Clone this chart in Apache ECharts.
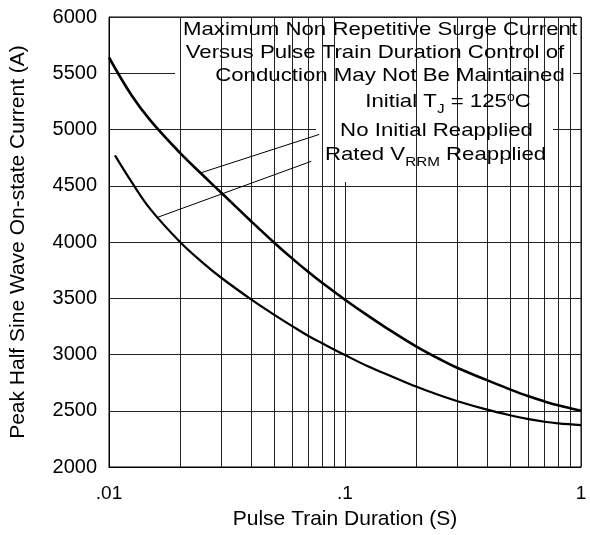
<!DOCTYPE html>
<html>
<head>
<meta charset="utf-8">
<script src="https://cdn.jsdelivr.net/npm/echarts@6/dist/echarts.min.js"></script>
<style>
html, body { margin: 0; padding: 0; background: #fff; }
#chart { width: 590px; height: 535px; }
</style>
</head>
<body>
<div id="chart"></div>
<script>
// curve readings: pulse train duration (s) -> peak current (A)
const noReapT = [0.01, 0.0125, 0.015, 0.02, 0.025, 0.03, 0.04, 0.05, 0.06, 0.07, 0.08, 0.1, 0.125, 0.15, 0.2, 0.25, 0.3, 0.4, 0.5, 0.6, 0.7, 0.8, 1.0];
const noReapI = [5640, 5300, 5079, 4792, 4593, 4435, 4185, 3996, 3850, 3733, 3637, 3487, 3345, 3235, 3072, 2962, 2880, 2772, 2690, 2628, 2583, 2548, 2500];

const vrrmT = [0.0106, 0.0125, 0.015, 0.02, 0.025, 0.03, 0.04, 0.05, 0.06, 0.07, 0.08, 0.1, 0.125, 0.15, 0.2, 0.25, 0.3, 0.4, 0.5, 0.6, 0.7, 0.8, 1.0];
const vrrmI = [4770, 4530, 4290, 4000, 3815, 3680, 3490, 3355, 3250, 3165, 3100, 2995, 2895, 2825, 2715, 2640, 2585, 2510, 2460, 2425, 2402, 2388, 2372];

// leader lines from the labels to the curves
const leadUpT = [0.0245, 0.0778];
const leadUpI = [4615, 4956];
const leadLoT = [0.0161, 0.0719];
const leadLoI = [4220, 4717];

const xTicks = [0.01, 0.1, 1];
const xTickLabels = ['.01', '.1', '1'];
const minorX = [0.02, 0.03, 0.04, 0.05, 0.06, 0.07, 0.08, 0.09, 0.2, 0.3, 0.4, 0.5, 0.6, 0.7, 0.8, 0.9];
const yTicks = [2000, 2500, 3000, 3500, 4000, 4500, 5000, 5500, 6000];
const yTickLabels = ['2000', '2500', '3000', '3500', '4000', '4500', '5000', '5500', '6000'];

const FONT = 'Liberation Sans, Arial, sans-serif';
const pair = (xs, ys) => xs.map((x, i) => [x, ys[i]]);

const chart = echarts.init(document.getElementById('chart'));

function note(cx, cy, text, rich) {
  return {
    type: 'text', x: cx, y: cy, scaleX: 1.17, z: 10, silent: true,
    style: {
      text: text, x: 0, y: 0, fill: '#000',
      fontSize: 19, fontFamily: FONT,
      textAlign: 'center', textVerticalAlign: 'middle',
      rich: rich
    }
  };
}
const rich = {
  n: { fontSize: 19, fontFamily: FONT, color: '#000' },
  sub: { fontSize: 13, fontFamily: FONT, color: '#000', padding: [15, 0, 0, 0] },
  sup: { fontSize: 12, fontFamily: FONT, color: '#000', padding: [0, 0, 9, 0] }
};

chart.setOption({
  animation: false,
  grid: { left: 105, right: 9, top: 17, bottom: 66, show: true, borderColor: '#000', borderWidth: 1 },
  xAxis: {
    type: 'log', logBase: 10, min: 0.01, max: 1,
    name: 'Pulse Train Duration (S)', nameLocation: 'middle', nameGap: 42,
    nameTextStyle: { fontSize: 21, fontFamily: FONT, color: '#000' },
    axisLine: { lineStyle: { color: '#000' } },
    axisTick: { show: false },
    axisLabel: {
      margin: 17, fontSize: 19, fontFamily: FONT, color: '#000',
      formatter: v => {
        const i = xTicks.findIndex(t => Math.abs(t - v) < t * 1e-6);
        return i < 0 ? '' : xTickLabels[i];
      }
    },
    splitLine: { show: true, lineStyle: { color: '#222', width: 1 } }
  },
  yAxis: {
    type: 'value', min: 2000, max: 6000, interval: 500,
    name: 'Peak Half Sine Wave On-state Current (A)', nameLocation: 'middle', nameGap: 80, nameRotate: 90,
    nameTextStyle: { fontSize: 21, fontFamily: FONT, color: '#000' },
    axisLine: { show: true, lineStyle: { color: '#000' } },
    axisTick: { show: false },
    axisLabel: {
      margin: 12, fontSize: 20, fontFamily: FONT, color: '#000',
      formatter: v => {
        const i = yTicks.indexOf(v);
        return i < 0 ? '' : yTickLabels[i];
      }
    },
    splitLine: { show: true, lineStyle: { color: '#222', width: 1 } }
  },
  graphic: [
    // the note block sits on white and hides the grid behind it
    { type: 'rect', z: 3, silent: true, shape: { x: 175, y: 18, width: 398, height: 80 }, style: { fill: '#fff' } },
    { type: 'rect', z: 3, silent: true, shape: { x: 316, y: 98, width: 237, height: 84 }, style: { fill: '#fff' } },
    note(380, 29.5, 'Maximum Non Repetitive Surge Current'),
    note(375, 52.5, 'Versus Pulse Train Duration Control of'),
    note(390, 75.5, 'Conduction May Not Be Maintained'),
    note(448, 102, '{n|Initial T}{sub|J}{n| = 125}{sup|o}{n|C}', rich),
    note(436.5, 131, 'No Initial Reapplied'),
    note(435.5, 155, '{n|Rated V}{sub|RRM}{n| Reapplied}', rich)
  ],
  series: [
    {
      type: 'line', data: [], z: 1, silent: true,
      markLine: {
        silent: true, symbol: 'none', label: { show: false },
        lineStyle: { color: '#222', width: 1, type: 'solid' },
        data: minorX.map(x => ({ xAxis: x }))
      }
    },
    {
      name: 'No Initial Reapplied', type: 'line', z: 5, silent: true,
      data: pair(noReapT, noReapI), smooth: 0.4, showSymbol: false,
      lineStyle: { color: '#000', width: 2.6 }
    },
    {
      name: 'Rated VRRM Reapplied', type: 'line', z: 5, silent: true,
      data: pair(vrrmT, vrrmI), smooth: 0.4, showSymbol: false,
      lineStyle: { color: '#000', width: 2.2 }
    },
    {
      type: 'line', z: 5, silent: true, data: pair(leadUpT, leadUpI), showSymbol: false,
      lineStyle: { color: '#000', width: 1 }
    },
    {
      type: 'line', z: 5, silent: true, data: pair(leadLoT, leadLoI), showSymbol: false,
      lineStyle: { color: '#000', width: 1 }
    }
  ]
});
</script>
</body>
</html>
